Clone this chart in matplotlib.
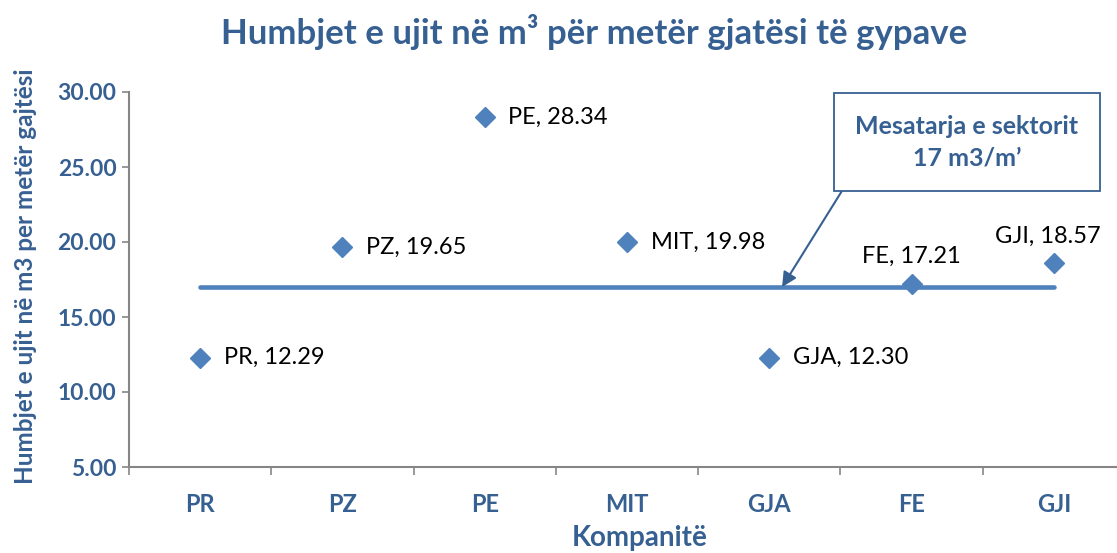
import numpy as np
import matplotlib
matplotlib.use('Agg')
import matplotlib.pyplot as plt

plt.rcParams['font.family'] = ['Lato', 'DejaVu Sans']

# data
companies = ['PR', 'PZ', 'PE', 'MIT', 'GJA', 'FE', 'GJI']
losses = [12.29, 19.65, 28.34, 19.98, 12.30, 17.21, 18.57]
sector_avg = 17
y_ticks = [5, 10, 15, 20, 25, 30]

blue = '#4F81BD'
dark = '#376092'
grey = '#868686'

fig = plt.figure(figsize=(11.17, 5.53), dpi=100)
ax = fig.add_axes([129 / 1117, 1 - 467 / 553, 996 / 1117, 375 / 553])

x = np.arange(len(companies))

# sector average line
ax.plot(x, [sector_avg] * len(companies), color=blue, lw=3.3, solid_capstyle='round', zorder=2)
# company points
ax.plot(x, losses, 'D', color=blue, ms=10, ls='none', zorder=3)

# data labels
for i, (c, v) in enumerate(zip(companies, losses)):
    txt = '%s, %.2f' % (c, v)
    if c in ('FE', 'GJI'):
        ax.annotate(txt, (i, v), xytext=(-4 if c == 'GJI' else 0, 12), textcoords='offset points',
                    ha='center', va='bottom', fontsize=17, color='black')
    else:
        ax.annotate(txt, (i, v), xytext=(17, 0), textcoords='offset points',
                    ha='left', va='center', fontsize=17, color='black')

ax.set_xlim(-0.5, 6.5)
ax.set_ylim(5, 30)
ax.set_yticks(y_ticks)
ax.set_yticklabels(['%.2f' % t for t in y_ticks])
ax.set_xticks(x)
ax.set_xticklabels(companies)
ax.set_xticks(np.arange(-0.5, 7, 1), minor=True)

for s in ['top', 'right']:
    ax.spines[s].set_visible(False)
for s in ['left', 'bottom']:
    ax.spines[s].set_color(grey)
    ax.spines[s].set_linewidth(1.5)

ax.tick_params(axis='y', colors=grey, length=5, width=1.2, pad=4, labelcolor=dark, labelsize=16.5)
ax.tick_params(axis='x', which='major', length=0, pad=19, labelcolor=dark, labelsize=17)
ax.tick_params(axis='x', which='minor', length=6, width=1.2, color=grey)
for lab in ax.get_xticklabels() + ax.get_yticklabels():
    lab.set_fontweight('bold')

# titles
fig.text(594 / 1117, 1 - 32 / 553, 'Humbjet e ujit në m³ për metër gjatësi të gypave',
         ha='center', va='center', fontsize=25, fontweight='bold', color=dark)
fig.text(26 / 1117, 1 - 276 / 553, 'Humbjet e ujit në m3 per metër gajtësi', rotation=90,
         ha='center', va='center', fontsize=17.5, fontweight='bold', color=dark)
fig.text(640 / 1117, 1 - 538 / 553, 'Kompanitë', ha='center', va='center',
         fontsize=20, fontweight='bold', color=dark)

# callout for the sector average
ax.annotate('Mesatarja e sektorit\n17 m3/m’', xy=(4.09, sector_avg),
            xytext=(967 / 1117, 1 - 142 / 553), textcoords='figure fraction',
            ha='center', va='center', fontsize=18, fontweight='bold', color=dark,
            linespacing=1.45,
            bbox=dict(boxstyle='square,pad=0.85', fc='white', ec=dark, lw=1.3),
            arrowprops=dict(arrowstyle='-|>', color=dark, lw=1.5, mutation_scale=22,
                            relpos=(0, 0), shrinkA=0, shrinkB=0))

fig.savefig('out.png', dpi=100)
